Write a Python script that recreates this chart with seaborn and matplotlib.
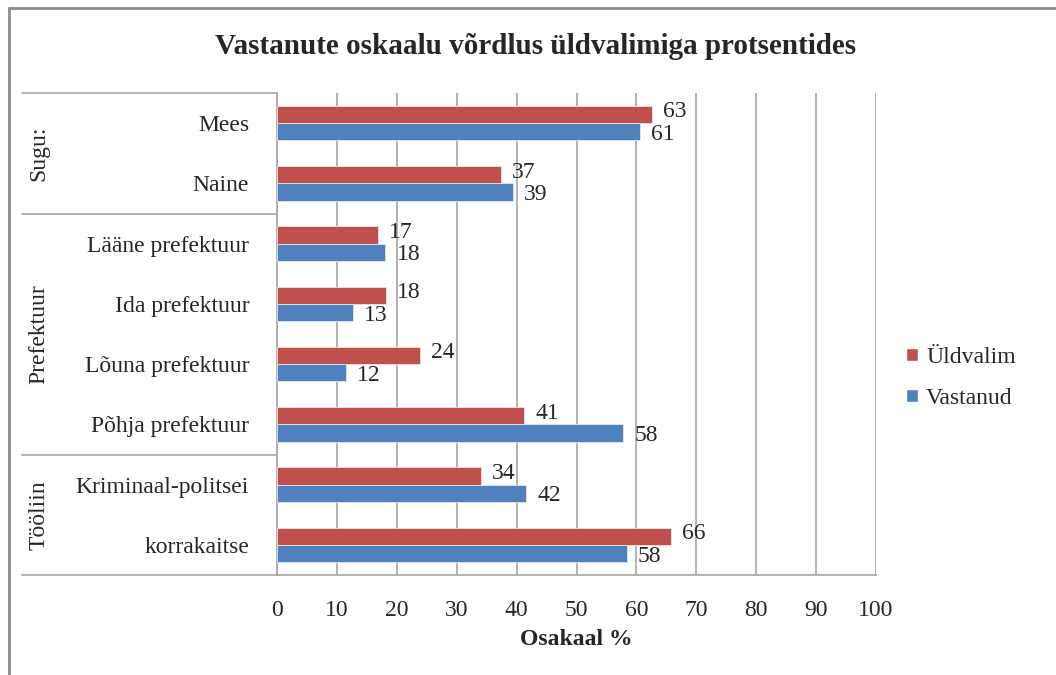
import pandas as pd
import seaborn as sns
import matplotlib.pyplot as plt
from matplotlib.patches import Patch
from matplotlib.lines import Line2D

# Andmed (loetud pildilt)
kategooriad = ['Mees', 'Naine', 'Lääne prefektuur', 'Ida prefektuur',
               'Lõuna prefektuur', 'Põhja prefektuur', 'Kriminaal-politsei', 'korrakaitse']
uldvalim = [62.6, 37.4, 16.8, 18.2, 23.9, 41.3, 34.1, 65.8]
vastanud = [60.6, 39.4, 18.1, 12.7, 11.5, 57.8, 41.6, 58.4]
seeriad = ['Üldvalim', 'Vastanud']
grupid = [('Sugu:', -0.5, 1.5), ('Prefektuur', 1.5, 5.5), ('Tööliin', 5.5, 7.5)]
x_ticks = list(range(0, 101, 10))

df = pd.DataFrame({
    'kategooria': kategooriad * 2,
    'osakaal': uldvalim + vastanud,
    'seeria': [seeriad[0]] * len(kategooriad) + [seeriad[1]] * len(kategooriad),
})

sns.set_style('white')
plt.rcParams['font.family'] = ['Liberation Serif', 'DejaVu Serif']

punane = '#C0504D'
sinine = '#4F81BD'
hall = '#A6A6A6'

fig = plt.figure(figsize=(10.56, 6.75), dpi=100)
ax = fig.add_axes([277 / 1056, 100 / 675, 599 / 1056, 482 / 675])
ax.set_axisbelow(True)

sns.barplot(data=df, x='osakaal', y='kategooria', hue='seeria', hue_order=seeriad,
            order=kategooriad, palette=[punane, sinine], saturation=1, width=0.57,
            orient='h', edgecolor='#E6E6E6', linewidth=0.6, legend=False, ax=ax, zorder=3)

# Väärtuste sildid (punane veidi üles, sinine veidi alla)
for cont, vals, nihe in zip(ax.containers, [uldvalim, vastanud], [2, -2]):
    tekstid = ax.bar_label(cont, labels=[f'{v:.0f}' for v in vals], padding=8, fontsize=17)
    for t in tekstid:
        x0, y0 = t.xyann
        t.xyann = (x0, y0 + nihe)

ax.set_xlim(0, 100)
ax.set_xticks(x_ticks)
ax.set_ylim(7.5, -0.5)
ax.tick_params(axis='x', labelsize=17, length=0, pad=18)
ax.tick_params(axis='y', labelsize=17, length=0, pad=20)
ax.set_xlabel('Osakaal %', fontsize=17, fontweight='bold', labelpad=6)
ax.set_ylabel('')

ax.grid(axis='x', color=hall, linewidth=1.2)
for s in ['top', 'right']:
    ax.spines[s].set_visible(False)
ax.spines['left'].set_color(hall)
ax.spines['bottom'].set_color(hall)
ax.spines['left'].set_linewidth(1.2)
ax.spines['bottom'].set_linewidth(1.2)

# Grupeerimise kast vasakul
tr = ax.get_yaxis_transform()
x_vasak = -(277 - 22) / 599
for y in [-0.5, 1.5, 5.5, 7.5]:
    ax.plot([x_vasak, 0], [y, y], color=hall, linewidth=1.2, transform=tr, clip_on=False)
for nimi, y0, y1 in grupid:
    ax.text(x_vasak + 17 / 599, (y0 + y1) / 2, nimi, rotation=90, fontsize=17,
            ha='center', va='center', transform=tr)

fig.text(536 / 1056, 1 - 46 / 675, 'Vastanute oskaalu võrdlus üldvalimiga protsentides',
         fontsize=21, fontweight='bold', ha='center', va='center')

# Legend
kasitsi = [Patch(facecolor=punane, label=seeriad[0]), Patch(facecolor=sinine, label=seeriad[1])]
fig.legend(handles=kasitsi, loc='center left', bbox_to_anchor=(906 / 1056, 1 - 378 / 675),
           frameon=False, fontsize=17, handlelength=0.5, handleheight=0.5,
           handletextpad=0.35, labelspacing=0.85, borderpad=0, borderaxespad=0)

# Välimine raam (vasak ja ülemine serv)
fig.add_artist(Line2D([9 / 1056, 9 / 1056], [0, 1 - 8 / 675], color='#8C8C8C', linewidth=2,
                      transform=fig.transFigure))
fig.add_artist(Line2D([9 / 1056, 1], [1 - 8 / 675, 1 - 8 / 675], color='#8C8C8C', linewidth=2,
                      transform=fig.transFigure))

plt.savefig('out.png', dpi=100)
